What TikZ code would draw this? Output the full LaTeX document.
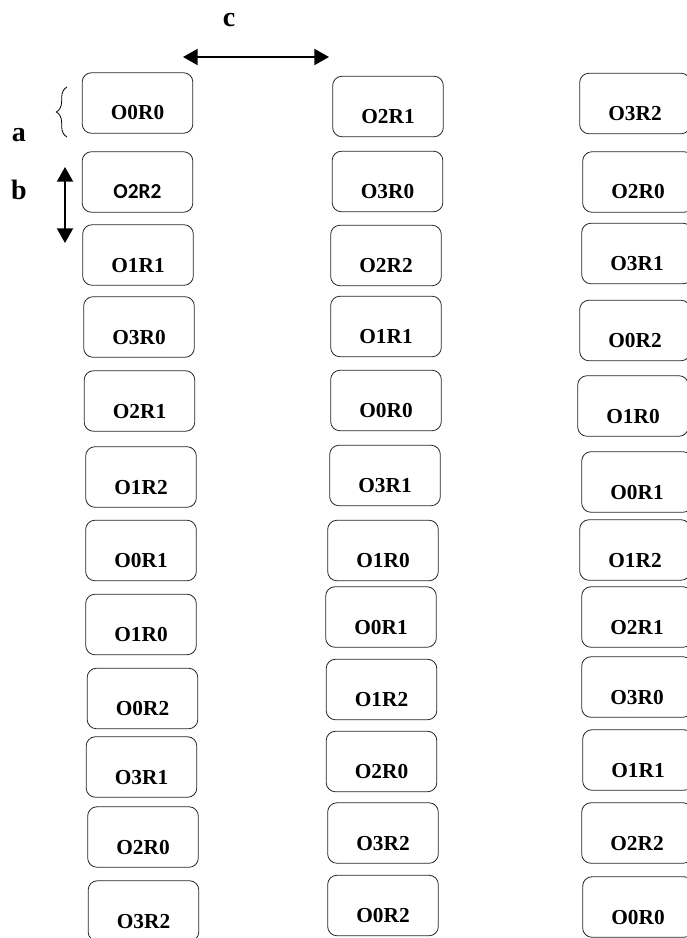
\documentclass[tikz,border=0pt]{standalone}
\usepackage{fontspec}
\setmainfont{Liberation Serif}
\setsansfont{Carlito}
\usepackage{tikz}
\usetikzlibrary{arrows.meta,decorations.pathreplacing}

\begin{document}
\begin{tikzpicture}[
x=0.75pt,y=-0.75pt,
cell/.style={
  draw=black!85,
  line width=0.6pt,
  rounded corners=7pt,
  minimum width=83pt,
  minimum height=45.4pt,
  inner sep=0pt,
  text height=25.5pt,
  text depth=0pt,
  font=\bfseries\fontsize{16}{19}\selectfont
},
lbl/.style={
  font=\bfseries\fontsize{21}{24}\selectfont
},
dimarrow/.style={
  line width=1.5pt,
  {Triangle[length=11pt,width=12pt]}-{Triangle[length=11pt,width=12pt]}
}
]
\useasboundingbox (0,0) rectangle (686,938);

\foreach \txt/\x/\y [count=\i] in {
  O0R0/137.5/103, \textsf{O2R2}/137.5/182, O1R1/138/255, O3R0/139/327,
  O2R1/139.5/401, O1R2/141/477, O0R1/141/550.5, O1R0/141/624.5,
  O0R2/142.5/698.5, O3R1/141.5/767, O2R0/143/837, O3R2/143.5/911}
  \node[cell] (l\i) at (\x,\y) {\txt};

\foreach \txt/\x/\y [count=\i] in {
  O2R1/388/106.5, O3R0/387.5/181.5, O2R2/386/255.5, O1R1/386/326.5,
  O0R0/386/400.5, O3R1/385/475.5, O1R0/383/550.5, O0R1/381/617,
  O1R2/381.5/689.5, O2R0/381.5/761.5, O3R2/383/833, O0R2/383/905.5}
  \node[cell] (m\i) at (\x,\y) {\txt};

\foreach \txt/\x/\y [count=\i] in {
  O3R2/635/103.5, O2R0/638/182, O3R1/637/253.5, O0R2/635/330.5,
  O1R0/633/406, O0R1/637/482, O1R2/635/550, O2R1/637/617,
  O3R0/637/687, O1R1/638/760, O2R2/637/833, O0R0/638/907}
  \node[cell] (r\i) at (\x,\y) {\txt};

\node[lbl] (a) at (19,135) {a};
\node[lbl] (b) at (19,190) {b};
\node[lbl] (c) at (229,20) {c};

\coordinate (cleft) at (183,57);
\coordinate (cright) at (329,57);
\coordinate (btop) at (65,167);
\coordinate (bbot) at (65,243);
\coordinate (atop) at (67,87);
\coordinate (abot) at (67,137);

\draw[dimarrow] (cleft) -- (cright);
\draw[dimarrow] (btop) -- (bbot);

\draw[line width=0.6pt,decorate,decoration={brace,amplitude=8pt}] (abot) -- (atop);
\end{tikzpicture}
\end{document}
